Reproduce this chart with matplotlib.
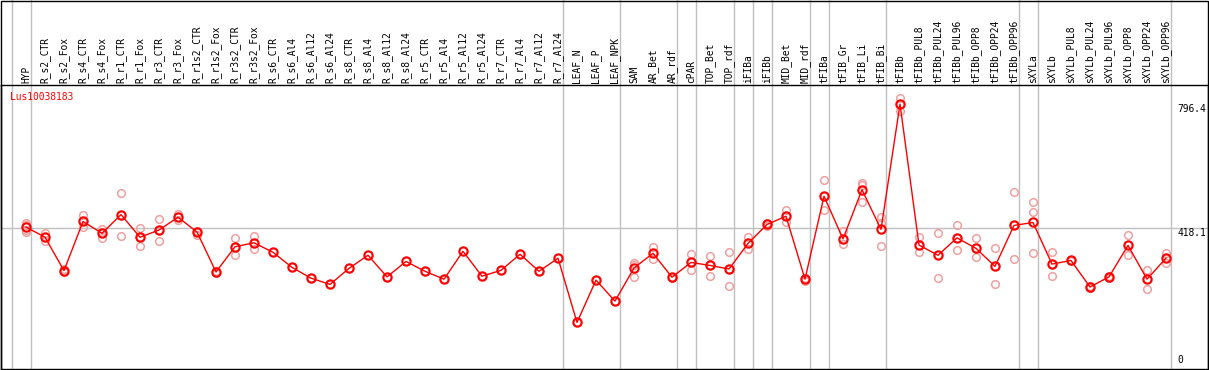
import matplotlib
matplotlib.use("Agg")
import matplotlib.pyplot as plt
from matplotlib.transforms import blended_transform_factory
from matplotlib.patches import Rectangle

plt.rcParams['font.family'] = ['DejaVu Sans Mono']

labels = ["HYP", "R_s2_CTR", "R_s2_Fox", "R_s4_CTR", "R_s4_Fox", "R_r1_CTR", "R_r1_Fox",
          "R_r3_CTR", "R_r3_Fox", "R_r1s2_CTR", "R_r1s2_Fox", "R_r3s2_CTR", "R_r3s2_Fox",
          "R_s6_CTR", "R_s6_Al4", "R_s6_Al12", "R_s6_Al24", "R_s8_CTR", "R_s8_Al4",
          "R_s8_Al12", "R_s8_Al24", "R_r5_CTR", "R_r5_Al4", "R_r5_Al12", "R_r5_Al24",
          "R_r7_CTR", "R_r7_Al4", "R_r7_Al12", "R_r7_Al24", "LEAF_N", "LEAF_P", "LEAF_NPK",
          "SAM", "AR_Bet", "AR_rdf", "cPAR", "TOP_Bet", "TOP_rdf", "iFIBa", "iFIBb",
          "MID_Bet", "MID_rdf", "tFIBa", "tFIB_Gr", "tFIB_Li", "tFIB_Bi", "tFIBb",
          "tFIBb_PUL8", "tFIBb_PUL24", "tFIBb_PUL96", "tFIBb_OPP8", "tFIBb_OPP24",
          "tFIBb_OPP96", "sXYLa", "sXYLb", "sXYLb_PUL8", "sXYLb_PUL24", "sXYLb_PUL96",
          "sXYLb_OPP8", "sXYLb_OPP24", "sXYLb_OPP96"]

means = [421, 390, 288, 438, 402, 459, 390, 412, 451, 406, 284, 361, 373,
         344, 298, 265, 246, 295, 335, 269, 316, 286, 262, 347, 271,
         289, 338, 286, 326, 130, 259, 195,
         296, 341, 268, 313, 304, 293, 371, 429,
         454, 262, 515, 385, 535, 414, 796,
         366, 335, 388, 356, 301, 426,
         435, 308, 319, 238, 269, 365, 262, 326]

replicates = [[434, 427, 412, 406], [402, 378, 390], [292, 284, 288], [457, 420, 438],
              [416, 388, 402], [524, 394, 459], [418, 363, 390], [445, 378, 412],
              [461, 443, 451], [398, 410, 406], [280, 288, 284], [388, 335, 361],
              [394, 353, 373],
              [344], [298], [265], [246], [295], [335], [269], [316], [286], [262],
              [347], [271], [289], [338], [286], [326], [130], [259], [195],
              [312, 268, 305], [359, 324, 341], [270, 265], [338, 289, 313],
              [332, 273, 304], [344, 240, 293], [391, 353, 371], [432, 425],
              [472, 437, 454], [265, 256], [566, 472, 515], [410, 370, 385],
              [556, 548, 497], [453, 434, 362], [814, 776, 796],
              [391, 344, 366], [402, 265, 335], [427, 350, 388], [388, 329, 356],
              [356, 247, 301], [528, 325, 426],
              [497, 466, 341], [344, 271, 308], [322, 317], [240, 236], [272, 265],
              [396, 335, 365], [289, 231, 262], [342, 311, 326]]

# last sample of each tissue group (a separator is drawn right after it)
group_ends = ["HYP", "R_r7_Al24", "LEAF_NPK", "AR_rdf", "cPAR", "TOP_rdf", "iFIBa",
              "iFIBb", "MID_rdf", "tFIBa", "tFIB_Bi", "tFIBb_OPP96", "sXYLa", "sXYLb_OPP96"]

gene = "Lus10038183"
y_ticks = [0, 418.1, 796.4]

W, H = 1209, 370
fig = plt.figure(figsize=(W / 100, H / 100), dpi=100)
ax = fig.add_axes([1 / W, 1 - 369 / H, 1207 / W, 284 / H])
ax.set_xlim(-1.316, 62.21)
ax.set_ylim(-12.2, 854.6)
ax.set_xticks([])
ax.set_yticks([])
for s in ax.spines.values():
    s.set_color("black")
    s.set_linewidth(1.0)

x = list(range(len(labels)))
grey = "#c0c0c0"

ax.axhline(y_ticks[1], color=grey, lw=1, zorder=1)
seps = [-1] + [labels.index(g) for g in group_ends]
for s in seps:
    ax.axvline(s + 0.25, ymin=0, ymax=369 / 284, color=grey, lw=1, clip_on=False, zorder=1)

for i, reps in enumerate(replicates):
    ax.plot([i] * len(reps), reps, "o", ms=5.5, mfc="none", mec="#f0a0a0", mew=1.1, zorder=2)
ax.plot(x, means, "-", color="red", lw=1, zorder=3)
ax.plot(x, means, "o", ms=6, mfc="none", mec="red", mew=1.5, zorder=4)

tr_lab = blended_transform_factory(ax.transData, fig.transFigure)
for i, lab in enumerate(labels):
    ax.text(i, 1 - 83 / H, lab, rotation=90, ha="center", va="bottom", fontsize=6.9,
            transform=tr_lab, clip_on=False)

tr_y = blended_transform_factory(fig.transFigure, ax.transData)
for v in y_ticks:
    txt = "0" if v == 0 else f"{v}"
    ax.text(1177 / W, v, txt, ha="left", va="bottom" if v == 0 else "top", fontsize=6.9,
            transform=tr_y, clip_on=False)

fig.text(10 / W, 1 - 97 / H, gene, color="red", fontsize=6.9, va="center", ha="left")

fig.patches.append(Rectangle((0.5 / W, 0.5 / H), 1207.5 / W, 368.5 / H, fill=False,
                             edgecolor="black", lw=1.0, transform=fig.transFigure))

fig.savefig("out.png", dpi=100, facecolor="white")
